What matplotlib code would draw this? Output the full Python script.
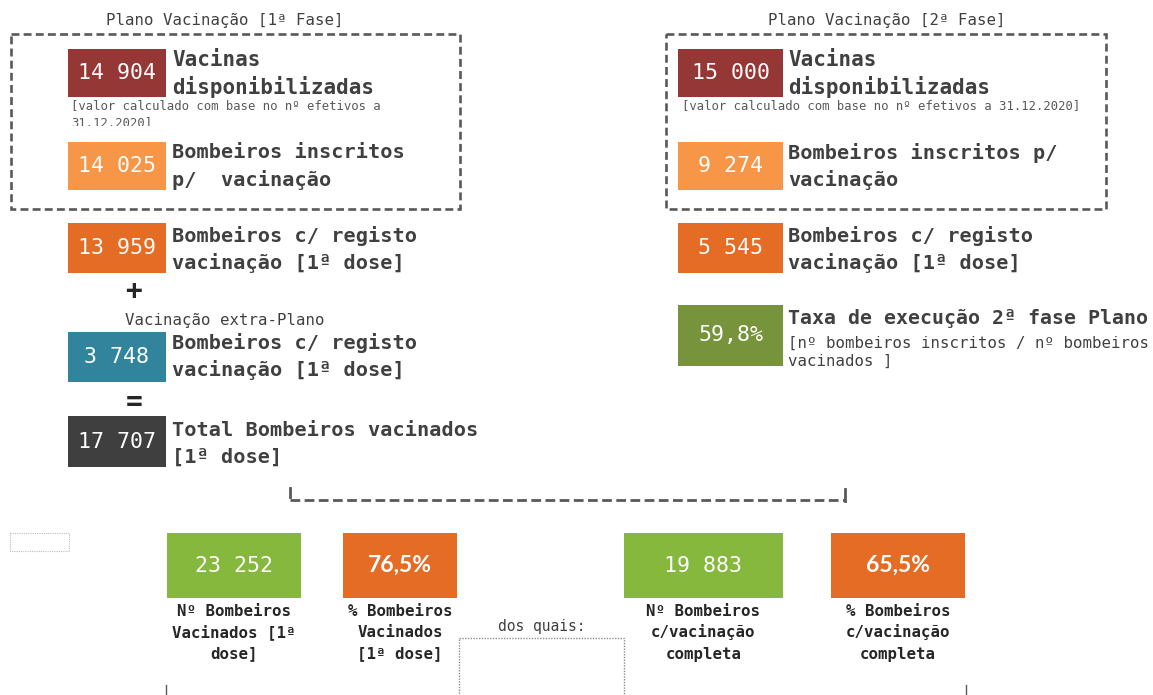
import matplotlib.pyplot as plt
from matplotlib.patches import Rectangle

# dados
titulos = ['Plano Vacinação [1ª Fase]', 'Plano Vacinação [2ª Fase]']

fase1_valores = ['14 904', '14 025', '13 959', '3 748', '17 707']
fase1_rotulos = [['Vacinas', 'disponibilizadas'],
                 ['Bombeiros inscritos', 'p/  vacinação'],
                 ['Bombeiros c/ registo', 'vacinação [1ª dose]'],
                 ['Bombeiros c/ registo', 'vacinação [1ª dose]'],
                 ['Total Bombeiros vacinados', '[1ª dose]']]
fase1_cores = ['#953735', '#F79646', '#E46C25', '#31849B', '#3F3F3F']

fase2_valores = ['15 000', '9 274', '5 545', '59,8%']
fase2_rotulos = [['Vacinas', 'disponibilizadas'],
                 ['Bombeiros inscritos p/', 'vacinação'],
                 ['Bombeiros c/ registo', 'vacinação [1ª dose]'],
                 ['Taxa de execução 2ª fase Plano']]
fase2_cores = ['#953735', '#F79646', '#E46C25', '#77933C']

nota_efetivos = '[valor calculado com base no nº efetivos a'
nota_data = '31.12.2020]'
nota_taxa = ['[nº bombeiros inscritos / nº bombeiros', 'vacinados ]']
extra_plano = 'Vacinação extra-Plano'

resumo_valores = ['23 252', '76,5%', '19 883', '65,5%']
resumo_rotulos = [['Nº Bombeiros', 'Vacinados [1ª', 'dose]'],
                  ['% Bombeiros', 'Vacinados', '[1ª dose]'],
                  ['Nº Bombeiros', 'c/vacinação', 'completa'],
                  ['% Bombeiros', 'c/vacinação', 'completa']]
resumo_cores = ['#86B83E', '#E46C25', '#86B83E', '#E46C25']

# layout (pixeis)
fase1_y = [(49, 97, 60), (142, 190, 153), (223, 273, 236), (332, 382, 343), (416, 467, 430)]
fase2_y = [(49, 97, 60), (142, 190, 153), (223, 273, 236), (305, 366, 318)]
resumo_x = [(167, 301), (343, 457), (624, 783), (831, 965)]

MONO = 'DejaVu Sans Mono'
TXT = '#404040'
LINHA = '#595959'

fig = plt.figure(figsize=(11.53, 6.95), dpi=100)
ax = fig.add_axes([0, 0, 1, 1])
ax.set_xlim(0, 1153)
ax.set_ylim(695, 0)
ax.axis('off')


def caixa(x0, x1, y0, y1, cor, valor, fs=15.5, fam=MONO, peso='normal'):
    ax.add_patch(Rectangle((x0, y0), x1 - x0, y1 - y0, facecolor=cor, edgecolor='none', zorder=2))
    ax.text((x0 + x1) / 2, (y0 + y1) / 2, valor, color='white', fontsize=fs,
            family=fam, weight=peso, ha='center', va='center', zorder=4)


def rotulo(x, y, linhas, fs=15):
    for i, l in enumerate(linhas):
        ax.text(x, y + i * 27, l, color=TXT, fontsize=fs, family=MONO,
                weight='bold', ha='left', va='center')


# titulos e caixas tracejadas
ax.text(225, 21, titulos[0], color=TXT, fontsize=11.3, family=MONO, ha='center', va='center')
ax.text(887, 21, titulos[1], color=TXT, fontsize=11.3, family=MONO, ha='center', va='center')
for x0, x1 in [(11, 460), (666, 1106)]:
    ax.add_patch(Rectangle((x0, 34), x1 - x0, 175, facecolor='none', edgecolor=LINHA,
                           lw=1.9, linestyle=(0, (3, 1.6)), zorder=1))

# fase 1
for (y0, y1, yl), v, r, c in zip(fase1_y, fase1_valores, fase1_rotulos, fase1_cores):
    caixa(68, 166, y0, y1, c, v)
    rotulo(172, yl, r, fs=15 if r[0] == 'Vacinas' else 14.6)

ax.text(71, 106, nota_efetivos, color='#595959', fontsize=8.8, family=MONO, ha='left', va='center')
ax.text(71, 123, nota_data, color='#595959', fontsize=8.8, family=MONO, ha='left', va='center')
# a segunda linha da nota aparece cortada no original
ax.add_patch(Rectangle((60, 125.5), 120, 12, facecolor='white', edgecolor='none', zorder=3))

ax.text(134, 291, '+', color='#262626', fontsize=20, family=MONO, weight='bold', ha='center', va='center')
ax.text(134, 402, '=', color='#262626', fontsize=20, family=MONO, weight='bold', ha='center', va='center')
ax.text(125, 320, extra_plano, color=TXT, fontsize=11.3, family=MONO, ha='left', va='center')

# fase 2
for (y0, y1, yl), v, r, c in zip(fase2_y, fase2_valores, fase2_rotulos, fase2_cores):
    caixa(678, 783, y0, y1, c, v)
    rotulo(788, yl, r, fs=15 if r[0] == 'Vacinas' else 14.3 if r[0].startswith('Taxa') else 14.6)

ax.text(682, 106, nota_efetivos + ' ' + nota_data, color='#595959', fontsize=8.8,
        family=MONO, ha='left', va='center')
ax.text(788, 343, nota_taxa[0], color=TXT, fontsize=11.3, family=MONO, ha='left', va='center')
ax.text(788, 361, nota_taxa[1], color=TXT, fontsize=11.3, family=MONO, ha='left', va='center')

# chaveta
ax.plot([290, 845], [500, 500], color=LINHA, lw=2, linestyle=(0, (3.5, 1.6)))
ax.plot([290, 290], [488, 497], color=LINHA, lw=2)
ax.plot([845, 845], [489, 501], color=LINHA, lw=2)

# resumo
for (x0, x1), v, r, c in zip(resumo_x, resumo_valores, resumo_rotulos, resumo_cores):
    if '%' in v:
        caixa(x0, x1, 533, 598, c, v, fs=16.5, fam='Lato', peso='bold')
    else:
        caixa(x0, x1, 533, 598, c, v, fs=15.5)
    for i, l in enumerate(r):
        ax.text((x0 + x1) / 2, 611 + i * 21.5, l, color='#262626', fontsize=11.3,
                family=MONO, weight='bold', ha='center', va='center')

ax.text(542, 626, 'dos quais:', color=TXT, fontsize=10.5, family=MONO, ha='center', va='center')
ax.add_patch(Rectangle((459, 638), 165, 80, facecolor='none', edgecolor='#8C8C8C',
                       lw=1, linestyle=(0, (1, 1))))
ax.add_patch(Rectangle((10, 533), 59, 18, facecolor='none', edgecolor='#BFBFBF',
                       lw=0.8, linestyle=(0, (1, 1))))
ax.plot([166, 166], [685, 695], color=LINHA, lw=1)
ax.plot([966, 966], [685, 695], color=LINHA, lw=1)

fig.savefig('out.png', dpi=100, facecolor='white')
